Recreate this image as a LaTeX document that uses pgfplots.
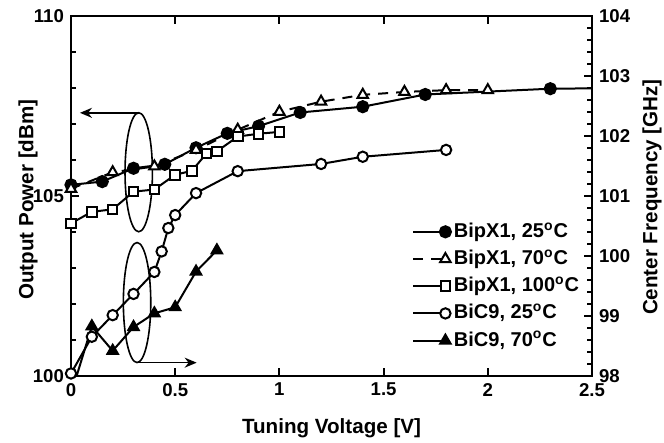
\documentclass[border=0pt]{standalone}
\usepackage{pgfplots}
\pgfplotsset{compat=1.18}
\usepackage{fontspec}
\setmainfont{Liberation Sans}
\usetikzlibrary{arrows.meta}

\begin{document}
\begin{tikzpicture}
\pgfplotsset{
 common/.style={scale only axis, width=260.5pt, height=180pt, xmin=0, xmax=2.5,
  at={(0pt,0pt)}, anchor=south west,
  axis line style={line width=1pt}, every tick/.style={line width=1pt, black},
  major tick length=4pt, minor tick length=2.5pt,
  tick align=inside, /pgf/number format/assume math mode=true,
  tick label style={font=\fontsize{9.3}{10}\selectfont\bfseries},
  label style={font=\fontsize{10.3}{12}\selectfont\bfseries},
 },
}
\begin{axis}[common, clip=false,
  ymin=100, ymax=110, ytick={100,105,110}, minor y tick num=4,
  xtick={0,0.5,1,1.5,2,2.5}, xticklabels={0,0.5,1,1.5,2,2.5},
  xtick pos=both, ytick pos=left,
  xlabel={Tuning Voltage [V]}, ylabel={Output Power [dBm]},
  xlabel style={at={(axis description cs:0.5,-0.145)}, anchor=center},
  ylabel style={at={(axis description cs:-0.0825,0.49)}, anchor=center},
  legend image code/.code={\draw[#1, mark indices={2}] plot coordinates {(0pt,0pt) (16pt,0pt)};},
  legend style={draw=none, fill=none, inner sep=0pt, at={(rel axis cs:0.6545,0.428)}, anchor=north west,
    nodes={inner sep=0pt, text height=7.5pt, text depth=2pt, font=\fontsize{10}{11}\selectfont\bfseries},
    column sep=1.5pt, row sep=4.1pt},
  legend cell align=left,
]
% BipX1 25C
\addplot[black, line width=1pt, mark=*, mark size=2.8pt, mark indices={1,2,3,4,5,6,7,8,9,10,11}] coordinates {
(0,105.31) (0.15,105.40) (0.30,105.77) (0.45,105.88) (0.60,106.34) (0.75,106.74) (0.90,106.94)
(1.10,107.32) (1.40,107.48) (1.70,107.82) (2.30,107.98) (2.5,107.99)};
\addlegendentry{BipX1, 25\textsuperscript{o}C}
% BipX1 70C
\addplot[black, line width=1pt, dash pattern=on 5pt off 4pt, mark=triangle*, mark size=3pt, mark options={solid, fill=white}] coordinates {
(0,105.2) (0.2,105.66) (0.4,105.82) (0.6,106.28) (0.8,106.84) (1.0,107.34) (1.2,107.62)
(1.4,107.81) (1.6,107.89) (1.8,107.94) (2.0,107.94)};
\addlegendentry{BipX1, 70\textsuperscript{o}C}
% BipX1 100C
\addplot[black, line width=1pt, mark=square*, mark size=2.4pt, mark options={fill=white}] coordinates {
(0,104.24) (0.1,104.56) (0.2,104.63) (0.3,105.12) (0.4,105.18) (0.5,105.59) (0.58,105.70)
(0.65,106.18) (0.7,106.24) (0.8,106.65) (0.9,106.73) (1.0,106.78)};
\addlegendentry{BipX1, 100\textsuperscript{o}C}
% BiC9 25C
\addplot[black, line width=1pt, mark=*, mark size=2.6pt, mark options={fill=white}] coordinates {
(0,100.07) (0.1,101.09) (0.2,101.69) (0.3,102.28) (0.4,102.89) (0.435,103.46) (0.467,104.11)
(0.5,104.47) (0.6,105.08) (0.8,105.69) (1.2,105.89) (1.4,106.09) (1.8,106.28)};
\addlegendentry{BiC9, 25\textsuperscript{o}C}
% BiC9 70C
\addplot[black, line width=1pt, mark=triangle*, mark size=3pt, mark indices={2,3,4,5,6,7,8}] coordinates {
(0.027,100.0) (0.1,101.38) (0.2,100.70) (0.3,101.36) (0.4,101.74) (0.5,101.91) (0.6,102.90) (0.7,103.49)};
\addlegendentry{BiC9, 70\textsuperscript{o}C}

\draw[line width=0.8pt] (axis cs:0.325,105.66) ellipse [x radius=6.85pt, y radius=29.75pt];
\draw[line width=0.8pt, -{Stealth[length=6pt,width=5pt]}] (axis cs:0.325,107.31) -- (axis cs:0.043,107.31);
\draw[line width=0.8pt] (axis cs:0.317,102.04) ellipse [x radius=6.85pt, y radius=30pt];
\draw[line width=0.8pt, -{Stealth[length=6pt,width=5pt]}] (axis cs:0.317,100.37) -- (axis cs:0.603,100.37);
\end{axis}
\begin{axis}[common,
  ymin=98, ymax=104, ytick={98,99,100,101,102,103,104}, minor y tick num=4,
  axis y line*=right, axis x line=none,
  ylabel={Center Frequency [GHz]},
  ylabel style={at={(axis description cs:1.115,0.497)}, anchor=center, rotate=0},
]
\end{axis}
\pgfresetboundingbox
\path (-35.5pt,-33.5pt) rectangle (296.5pt,188pt);
\end{tikzpicture}
\end{document}
